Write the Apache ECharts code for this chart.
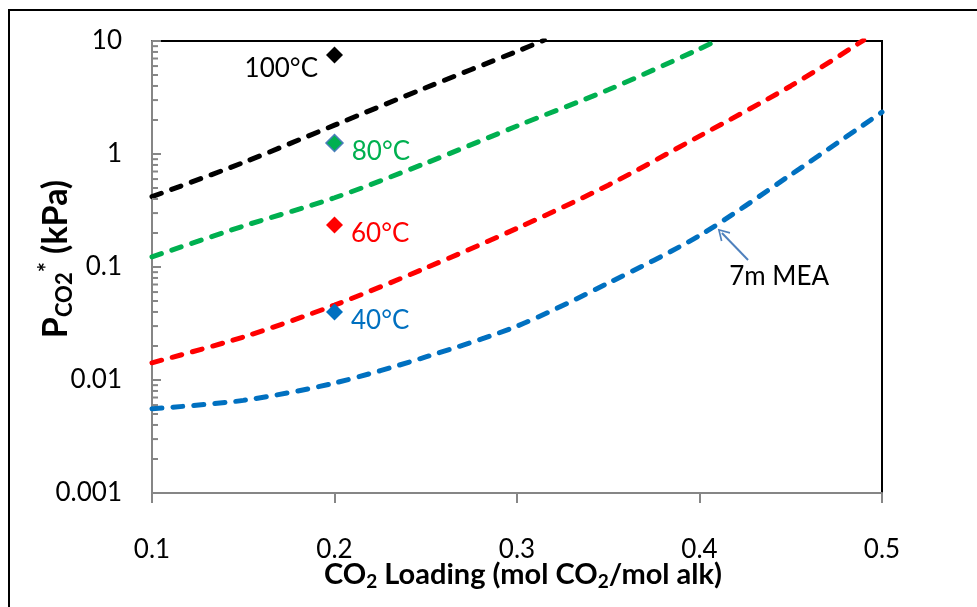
<!DOCTYPE html>
<html><head><meta charset="utf-8">
<script src="https://cdn.jsdelivr.net/npm/echarts@6/dist/echarts.min.js"></script>
<style>html,body{margin:0;padding:0;background:#fff}#c{width:977px;height:607px}</style>
</head><body><div id="c"></div>
<script>
// ---- data ----
const curve40 = [[0.1,0.00557],[0.15,0.0066],[0.2,0.0094],[0.25,0.016],[0.3,0.030],[0.35,0.072],[0.4,0.19],[0.45,0.655],[0.5,2.35]];
const curve60 = [[0.1,0.0142],[0.15,0.024],[0.2,0.046],[0.25,0.098],[0.3,0.22],[0.35,0.53],[0.4,1.44],[0.45,4.0],[0.49,10.2]];
const curve80 = [[0.1,0.123],[0.15,0.23],[0.2,0.41],[0.25,0.83],[0.3,1.77],[0.35,3.7],[0.4,8.5],[0.41,10.2]];
const curve100 = [[0.1,0.419],[0.15,0.84],[0.2,1.8],[0.25,3.86],[0.3,8.1],[0.315,10.2]];
const pointLoading = 0.2;
const point40 = 0.04, point60 = 0.235, point80 = 1.25, point100 = 7.5;
const pointLabels = ['40°C','60°C','80°C','100°C'];
const annotationText = '7m MEA';
const arrowFrom = [0.4266, 0.1153], arrowTo = [0.4123, 0.2], annotationPos = [0.4436, 0.0816];
const xTicks = [0.1,0.2,0.3,0.4,0.5];
const yTicks = [0.001,0.01,0.1,1,10];
const decades = [0.001,0.01,0.1,1];
const minorMults = [2,3,4,5,6,7,8,9];

const minorTickData = [];
decades.forEach(d => minorMults.forEach(m => minorTickData.push([0.1, d*m])));

const FONT = 'Lato';
const gray = '#868686';
const dash = [10,11];

function curveSeries(data, color){
  return {type:'line', data, smooth:0.3, showSymbol:false, clip:true,
    lineStyle:{color, width:5, type:dash, cap:'round'}, z:3};
}
function pointSeries(val, color, label, pos, border){
  return {type:'scatter', data:[[pointLoading, val]], symbol:'diamond', symbolSize:17,
    itemStyle:{color, borderColor:border||color, borderWidth:border?1.5:0, opacity:1},
    label:{show:true, formatter:label, position:pos, distance:8, offset:pos==='left'?[0,13]:[0,9],
      color: color==='#000000'?'#000':color, fontFamily:FONT, fontSize:26}, z:4};
}

const chart = echarts.init(document.getElementById('c'), null, {renderer:'canvas'});
const blue = '#0070C0', red = '#FF0000', green = '#00B050', black = '#000000';
const blueSeries = curveSeries(curve40, blue);
blueSeries.markLine = {silent:true, symbol:['none','path://M0,0 L7,12 L5.5,13 L0,3.5 L-5.5,13 L-7,12 Z'], symbolSize:[13,12],
  lineStyle:{color:'#4F81BD', width:2, type:'solid'}, label:{show:false},
  data:[[{coord:arrowFrom},{coord:arrowTo}]]};
blueSeries.markPoint = {silent:true, symbol:'circle', symbolSize:1, itemStyle:{color:'rgba(0,0,0,0)'},
  label:{show:true, position:'inside', formatter:annotationText, color:'#000', fontFamily:FONT, fontSize:26},
  data:[{coord:annotationPos}]};

chart.setOption({
  animation:false,
  textStyle:{fontFamily:FONT},
  graphic:[{type:'rect', shape:{x:9,y:10,width:1400,height:1400}, style:{fill:'none', stroke:'#000', lineWidth:2}, silent:true}],
  grid:{left:152, top:41, right:95, bottom:114, show:true, borderColor:'#000', borderWidth:2, backgroundColor:'rgba(0,0,0,0)', containLabel:false, outerBoundsMode:'none'},
  xAxis:{type:'value', min:xTicks[0], max:xTicks[xTicks.length-1], interval:0.1,
    axisLine:{show:true, lineStyle:{color:gray, width:2}},
    axisTick:{show:true, inside:false, length:10, lineStyle:{color:gray, width:2}},
    splitLine:{show:false},
    axisLabel:{margin:44, color:'#000', fontSize:26, fontFamily:FONT, formatter:v=>String(Number(v.toFixed(1)))},
    name:'{b|CO}{s|2}{b| Loading (mol CO}{s|2}{b|/mol alk)}', nameLocation:'middle', nameGap:66, nameMoveOverlap:false,
    nameTextStyle:{padding:[0,0,0,12], rich:{
      b:{fontSize:29, fontWeight:'bold', fontFamily:FONT, color:'#000', lineHeight:32},
      s:{fontSize:19, fontWeight:'bold', fontFamily:FONT, color:'#000', verticalAlign:'bottom', lineHeight:24}}}
  },
  yAxis:{type:'log', logBase:10, min:yTicks[0], max:yTicks[yTicks.length-1],
    axisLine:{show:true, lineStyle:{color:gray, width:2}},
    axisTick:{show:true, inside:true, length:9, lineStyle:{color:gray, width:2}},
    splitLine:{show:false}, minorTick:{show:false},
    axisLabel:{margin:30, color:'#000', fontSize:26, fontFamily:FONT, formatter:v=>String(Number(v.toPrecision(1)))},
    name:'{b|P}{s|CO2}{p|*}{b| (kPa)}', nameLocation:'middle', nameGap:76, nameRotate:90, nameMoveOverlap:false,
    nameTextStyle:{padding:[0,0,0,16], rich:{
      b:{fontSize:34, fontWeight:'bold', fontFamily:FONT, color:'#000', lineHeight:38},
      s:{fontSize:22, fontWeight:'bold', fontFamily:FONT, color:'#000', verticalAlign:'bottom', lineHeight:30},
      p:{fontSize:24, fontWeight:'bold', fontFamily:FONT, color:'#000', verticalAlign:'top', lineHeight:40}}}
  },
  series:[
    curveSeries(curve100, black),
    curveSeries(curve80, green),
    curveSeries(curve60, red),
    blueSeries,
    pointSeries(point100, black, pointLabels[3], 'left'),
    pointSeries(point80, green, pointLabels[2], 'right', '#4A7EBB'),
    pointSeries(point60, red, pointLabels[1], 'right'),
    pointSeries(point40, blue, pointLabels[0], 'right'),
    {type:'custom', data:minorTickData, silent:true, clip:false, z:5,
      renderItem:(params, api)=>{
        const p = api.coord([api.value(0), api.value(1)]);
        return {type:'line', shape:{x1:p[0], y1:p[1], x2:p[0]+6, y2:p[1]}, style:{stroke:gray, lineWidth:2}};
      }}
  ]
});
</script></body></html>
